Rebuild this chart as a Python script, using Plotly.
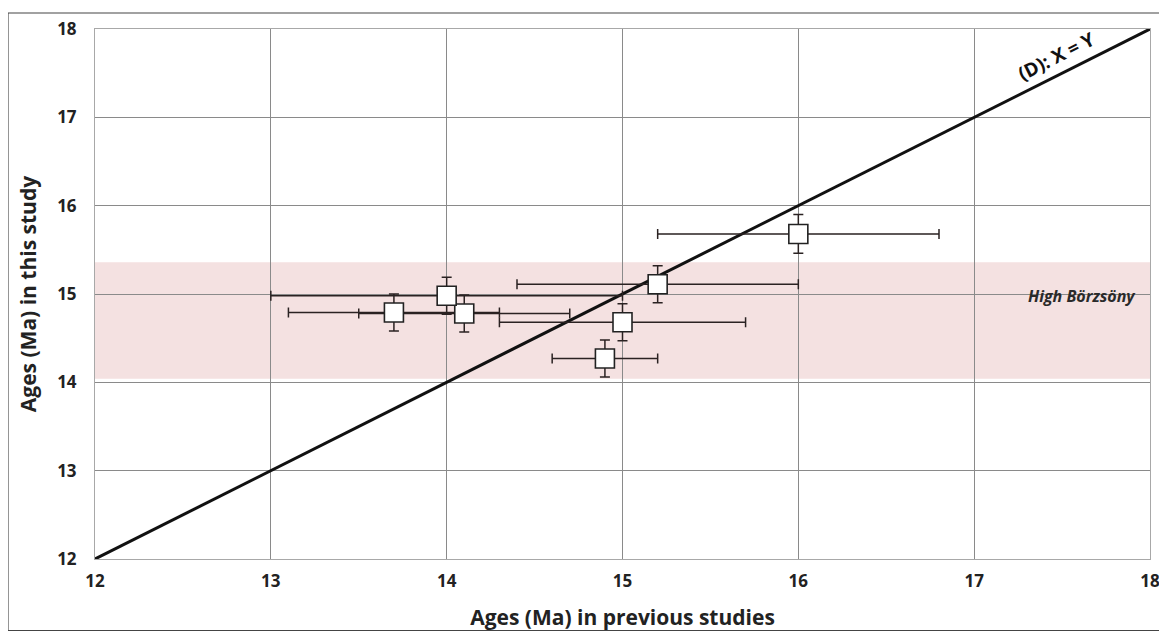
import plotly.graph_objects as go

# Data
prev_age = [13.7, 14.1, 14.0, 15.2, 15.0, 14.9, 16.0]
this_age = [14.79, 14.78, 14.98, 15.11, 14.68, 14.27, 15.68]
prev_err = [0.6, 0.6, 1.0, 0.8, 0.7, 0.3, 0.8]
this_err = [0.21, 0.21, 0.21, 0.21, 0.21, 0.21, 0.22]

line_xy = [12, 18]
band_range = [14.04, 15.36]
axis_ticks = [12, 13, 14, 15, 16, 17, 18]

FONT = "Open Sans"

fig = go.Figure()

fig.add_trace(go.Scatter(
    x=line_xy, y=line_xy, mode="lines",
    line=dict(color="#111111", width=3), hoverinfo="skip", showlegend=False))

fig.add_trace(go.Scatter(
    x=prev_age, y=this_age, mode="markers",
    marker=dict(symbol="square", size=19, color="white",
                line=dict(color="#222222", width=1.6)),
    error_x=dict(type="data", array=prev_err, color="#2a2222", thickness=1.5, width=5),
    error_y=dict(type="data", array=this_err, color="#2a2222", thickness=1.5, width=5),
    showlegend=False))

fig.add_shape(type="rect", xref="paper", yref="y", x0=0, x1=1,
              y0=band_range[0], y1=band_range[1],
              fillcolor="#F4E1E1", line=dict(width=0), layer="below")

# outer chart border
fig.add_shape(type="rect", xref="paper", yref="paper",
              x0=-0.0825, x1=1.2, y0=-0.1349, y1=1.0302,
              line=dict(color="#444444", width=1.2), fillcolor="rgba(0,0,0,0)")

fig.add_annotation(x=18, y=14.98, xref="x", yref="y", text="<b><i>High Börzsöny</i></b>",
                   showarrow=False, xanchor="right", xshift=-12,
                   font=dict(family=FONT, size=16, color="#2a2a2a"))

fig.add_annotation(x=17.47, y=17.69, xref="x", yref="y", text="<b>(D): X = Y</b>",
                   showarrow=False, textangle=-26.6,
                   font=dict(family=FONT, size=19, color="#111111"))

axis_common = dict(
    range=[12, 18], tickvals=axis_ticks, showgrid=True, gridcolor="#8a8a8a",
    gridwidth=1, zeroline=False, showline=True, linecolor="#a8a8a8", linewidth=1,
    mirror=True, ticks="", automargin=False,
    tickfont=dict(family=FONT, size=17, color="#222222", weight="bold"))

fig.update_xaxes(**axis_common, ticklabelstandoff=7, ticklabeloverflow="allow",
                 title=dict(text="<b>Ages (Ma) in previous studies</b>", standoff=22,
                            font=dict(family=FONT, size=21, color="#222222")))
fig.update_yaxes(**axis_common, ticklabelstandoff=14,
                 title=dict(text="<b>Ages (Ma) in this study</b>", standoff=14,
                            font=dict(family=FONT, size=21, color="#222222")))

fig.update_layout(
    width=1151, height=623,
    margin=dict(l=87, r=9, t=21, b=72),
    plot_bgcolor="white", paper_bgcolor="white",
    showlegend=False)

fig.write_html("out.html")
